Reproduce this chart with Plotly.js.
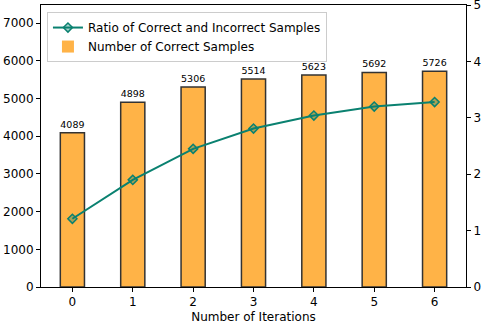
<!DOCTYPE html>
<html>
<head>
<meta charset="utf-8">
<script src="https://cdn.plot.ly/plotly-3.0.1.min.js"></script>
<style>
  body { margin: 0; background: #fff; }
  #chart { width: 484px; height: 326px; }
</style>
</head>
<body>
<div id="chart"></div>
<script>
const iterations = [0, 1, 2, 3, 4, 5, 6];
const correctSamples = [4089, 4898, 5306, 5514, 5623, 5692, 5726];
const ratio = [1.21, 1.90, 2.45, 2.81, 3.04, 3.20, 3.28];

const teal = '#0a8170';
const orange = '#ffb347';

const ratioTrace = {
  x: iterations,
  y: ratio,
  yaxis: 'y2',
  type: 'scatter',
  mode: 'lines+markers',
  name: 'Ratio of Correct and Incorrect Samples',
  line: { color: teal, width: 2 },
  marker: { symbol: 'diamond', size: 7, color: 'rgba(10,129,112,0.35)', line: { color: teal, width: 1.5 } }
};

// fill only, so the legend swatch has no outline
const barFill = {
  x: iterations,
  y: correctSamples,
  type: 'bar',
  width: 0.4,
  name: 'Number of Correct Samples',
  marker: { color: orange, line: { width: 0 } }
};

// same bars again with the dark edge and value labels
const barEdge = {
  x: iterations,
  y: correctSamples,
  type: 'bar',
  width: 0.4,
  showlegend: false,
  marker: { color: orange, line: { color: '#333', width: 1.5 } },
  text: correctSamples.map(String),
  textposition: 'outside',
  cliponaxis: false,
  textfont: { size: 9.5, color: '#000' }
};

const layout = {
  width: 484,
  height: 326,
  margin: { l: 41, r: 18, t: 5, b: 39 },
  paper_bgcolor: '#fff',
  plot_bgcolor: '#fff',
  font: { family: 'DejaVu Sans', size: 12, color: '#000' },
  barmode: 'overlay',
  showlegend: true,
  legend: {
    x: 0.014, y: 0.975, xanchor: 'left', yanchor: 'top',
    bgcolor: 'rgba(255,255,255,0.8)', bordercolor: '#ccc', borderwidth: 1,
    font: { size: 12 }, tracegroupgap: 0
  },
  xaxis: {
    range: [-0.52, 6.52],
    tickmode: 'array', tickvals: iterations,
    showline: true, mirror: true, linecolor: '#000', linewidth: 1,
    ticks: 'outside', ticklen: 4, tickcolor: '#000',
    showgrid: false, zeroline: false,
    title: { text: 'Number of Iterations', font: { size: 12 }, standoff: 4 }
  },
  yaxis: {
    range: [0, 7480],
    tickvals: [0, 1000, 2000, 3000, 4000, 5000, 6000, 7000],
    showline: true, linecolor: '#000', linewidth: 1,
    ticks: 'outside', ticklen: 4, tickcolor: '#000',
    showgrid: false, zeroline: false,
    ticklabeloverflow: 'allow'
  },
  yaxis2: {
    overlaying: 'y', side: 'right',
    range: [0, 5.001],
    tickvals: [0, 1, 2, 3, 4, 5],
    showline: true, linecolor: '#000', linewidth: 1,
    ticks: 'outside', ticklen: 4, tickcolor: '#000',
    showgrid: false, zeroline: false,
    ticklabeloverflow: 'allow'
  }
};

Plotly.newPlot('chart', [ratioTrace, barFill, barEdge], layout, { displayModeBar: false, staticPlot: true });
</script>
</body>
</html>
